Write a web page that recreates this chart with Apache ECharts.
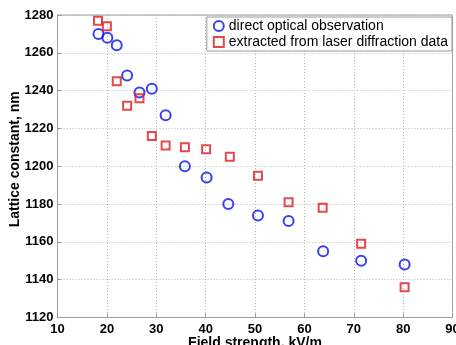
<!DOCTYPE html>
<html>
<head>
<meta charset="utf-8">
<script src="https://cdn.jsdelivr.net/npm/echarts@6/dist/echarts.min.js"></script>
<style>
  html, body { margin: 0; padding: 0; background: #fff; }
  #chart { width: 456px; height: 345px; }
</style>
</head>
<body>
<div id="chart"></div>
<script>
// direct optical observation
const opticalX = [18.3, 20.1, 22.0, 24.1, 26.6, 29.1, 31.9, 35.8, 40.2, 44.6, 50.6, 56.8, 63.8, 71.5, 80.3];
const opticalY = [1270, 1268, 1264, 1248, 1239, 1241, 1227, 1200, 1194, 1180, 1174, 1171, 1155, 1150, 1148];

// extracted from laser diffraction data
const laserX = [18.2, 20.0, 22.0, 24.1, 26.6, 29.1, 31.9, 35.8, 40.1, 44.9, 50.6, 56.8, 63.7, 71.5, 80.3];
const laserY = [1277, 1274, 1245, 1232, 1236, 1216, 1211, 1210, 1209, 1205, 1195, 1181, 1178, 1159, 1136];

const seriesNames = ['direct optical observation', 'extracted from laser diffraction data'];

const blue = '#0a10f0';
const red = '#dc1c1c';
const font = 'Liberation Sans, Arial, sans-serif';

const zip = (xs, ys) => xs.map((x, i) => [x, ys[i]]);

const chart = echarts.init(document.getElementById('chart'));

const axisCommon = {
  axisLine: { show: true, onZero: false, lineStyle: { color: '#9a9a9a', width: 1 } },
  axisTick: { show: true, inside: true, length: 4, lineStyle: { color: '#9a9a9a' } },
  splitLine: { show: true, lineStyle: { color: '#b8b8b8', type: [1, 2], width: 1 } },
  axisLabel: { color: '#000', fontWeight: 'bold', fontSize: 13, fontFamily: font, formatter: v => String(v) },
  nameTextStyle: { color: '#000', fontWeight: 'bold', fontSize: 14, fontFamily: font },
  nameMoveOverlap: false,
};

chart.setOption({
  animation: false,
  backgroundColor: '#fff',
  grid: {
    left: 57.5, right: 3.5, top: 15, bottom: 27.5,
    outerBoundsMode: 'none', containLabel: false,
    show: true, borderColor: '#9a9a9a', borderWidth: 1, backgroundColor: '#fff',
  },
  legend: {
    orient: 'vertical',
    right: 4, top: 17,
    padding: [2, 4, 2, 6],
    itemGap: 2,
    itemWidth: 10, itemHeight: 10,
    backgroundColor: '#fff',
    borderColor: '#9a9a9a', borderWidth: 1,
    textStyle: { color: '#000', fontSize: 14, fontFamily: font },
    data: [
      { name: seriesNames[0], icon: 'circle', itemStyle: { color: '#fff', borderColor: blue, borderWidth: 2 } },
      { name: seriesNames[1], icon: 'rect', itemStyle: { color: '#fff', borderColor: red, borderWidth: 2 } },
    ],
  },
  xAxis: {
    type: 'value', min: 10, max: 90, interval: 10,
    name: 'Field strength, kV/m', nameLocation: 'middle', nameGap: 19,
    ...axisCommon,
    axisLabel: { ...axisCommon.axisLabel, margin: 5 },
  },
  yAxis: {
    type: 'value', min: 1120, max: 1280, interval: 20,
    name: 'Lattice constant, nm', nameLocation: 'middle', nameGap: 35, nameRotate: 90,
    ...axisCommon,
    nameTextStyle: { ...axisCommon.nameTextStyle, padding: [0, 0, 0, 14] },
    axisLabel: { ...axisCommon.axisLabel, margin: 4 },
  },
  series: [
    {
      name: seriesNames[0], type: 'scatter', symbol: 'circle', symbolSize: 10,
      itemStyle: { color: 'transparent', borderColor: blue, borderWidth: 2 },
      data: zip(opticalX, opticalY),
    },
    {
      name: seriesNames[1], type: 'scatter', symbol: 'rect', symbolSize: 8,
      itemStyle: { color: 'transparent', borderColor: red, borderWidth: 2 },
      data: zip(laserX, laserY),
    },
  ],
});
</script>
</body>
</html>
